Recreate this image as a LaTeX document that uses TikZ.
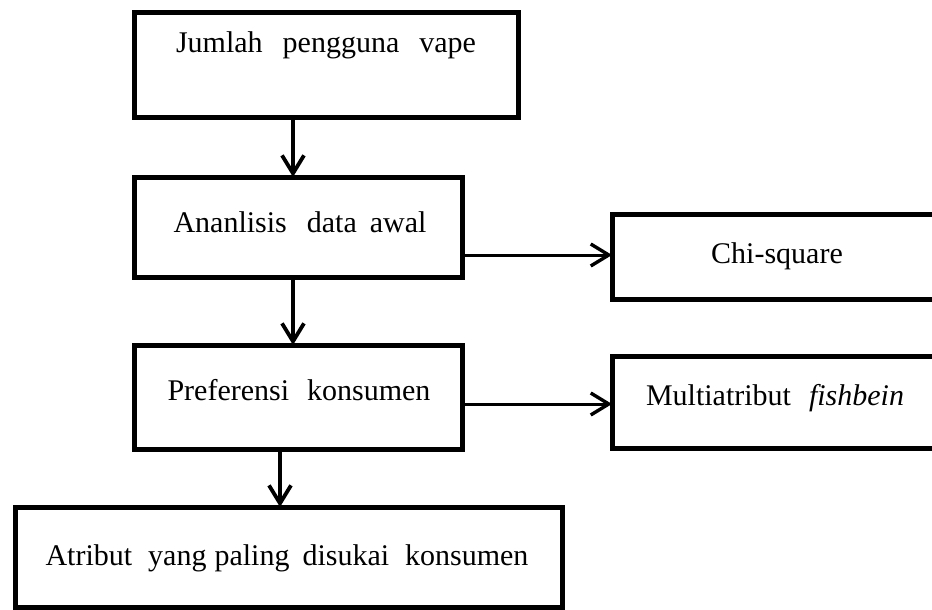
\documentclass[tikz,border=0pt]{standalone}
\usepackage{fontspec}
\setmainfont{Liberation Serif}
\usetikzlibrary{arrows.meta}
\begin{document}
\begin{tikzpicture}[x=1pt,y=-1pt,
  box/.style={draw, line width=5pt, inner sep=0pt, outer sep=0pt},
  lbl/.style={anchor=base, inner sep=0pt, font=\fontsize{30}{36}\selectfont},
  arr/.style={line width=3.8pt, -{Straight Barb[length=18pt,width=22pt,line width=3.8pt]}},
  harr/.style={line width=3pt, -{Straight Barb[length=18pt,width=22pt,line width=3.4pt]}}]
\useasboundingbox (0,0) rectangle (932,610);
% boxes
\node[box, minimum width=384pt, minimum height=104pt] (b1) at (326,65) {};
\node[box, minimum width=328pt, minimum height=100pt] (b2) at (298,227) {};
\node[box, minimum width=328pt, minimum height=104pt] (b3) at (298,397) {};
\node[box, minimum width=547pt, minimum height=100pt] (b4) at (288.5,557) {};
\node[box, minimum width=330pt, minimum height=85pt] (chi) at (777,256.5) {};
\node[box, minimum width=328pt, minimum height=92pt] (multi) at (776,402) {};
% texts
\node[lbl] (t1) at (326,53) {Jumlah\hspace{20pt}pengguna\hspace{20pt}vape};
\node[lbl] (t2) at (300,232) {Ananlisis\hspace{20pt}data\hspace{13pt}awal};
\node[lbl] (t3) at (299,400) {Preferensi\hspace{18pt}konsumen};
\node[lbl] (t4) at (287,565) {Atribut\hspace{16pt}yang\hspace{8pt}paling\hspace{13pt}disukai\hspace{16pt}konsumen};
\node[lbl] (tchi) at (777,263) {Chi-square};
\node[lbl] (tmulti) at (775,405) {Multiatribut\hspace{18pt}\textit{fishbein}};
% helper coordinates
\coordinate (ax1) at (293,0);
\coordinate (ax2) at (280,0);
\coordinate (ay1) at (0,255);
\coordinate (ay2) at (0,404);
% connectors
\draw[arr] (b1.south -| ax1) -- (b2.north -| ax1);
\draw[arr] (b2.south -| ax1) -- (b3.north -| ax1);
\draw[arr] (b3.south -| ax2) -- (b4.north -| ax2);
\draw[harr] (b2.east |- ay1) -- (chi.west |- ay1);
\draw[harr] (b3.east |- ay2) -- (multi.west |- ay2);
\end{tikzpicture}
\end{document}
